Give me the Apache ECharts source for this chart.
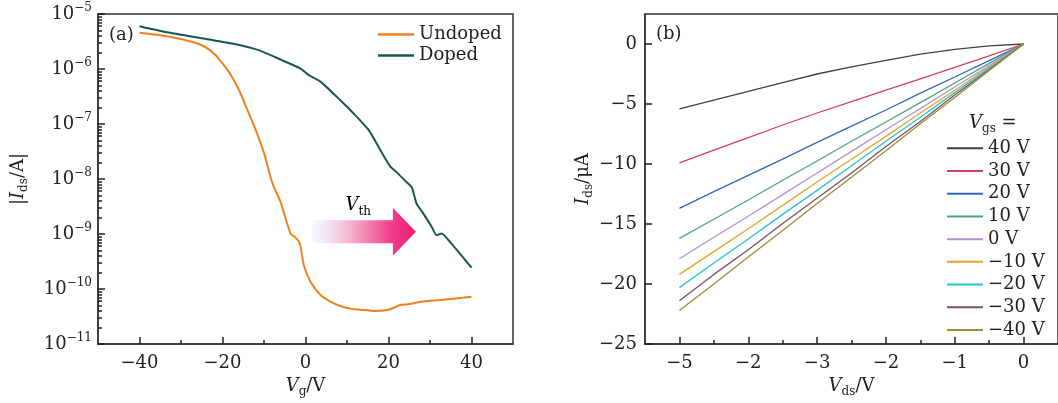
<!DOCTYPE html>
<html>
<head>
<meta charset="utf-8">
<script src="https://cdn.jsdelivr.net/npm/echarts@6/dist/echarts.min.js"></script>
<style>
  html, body { margin: 0; padding: 0; background: #fff; }
  #chart { width: 1058px; height: 403px; }
</style>
</head>
<body>
<div id="chart"></div>
<script>
// (a) transfer curves: [Vg, |Ids|]
const undoped = [
  [-40, 4.55e-6], [-35, 4.1e-6], [-30, 3.5e-6], [-25, 2.7e-6], [-22, 1.9e-6],
  [-20, 1.26e-6], [-18, 7.8e-7], [-16, 4.1e-7], [-14, 1.8e-7], [-12, 7.8e-8],
  [-10, 2.95e-8], [-8, 8.5e-9], [-6, 3.8e-9], [-3.6, 1.02e-9], [-2.6, 8.9e-10],
  [-1.4, 6.8e-10], [-0.4, 2.7e-10], [1.2, 1.35e-10], [3.6, 7.8e-11], [6, 5.9e-11],
  [8.4, 4.9e-11], [10.8, 4.4e-11], [13.2, 4.2e-11], [16.4, 4.0e-11], [20, 4.2e-11],
  [22.8, 5.1e-11], [24.4, 5.25e-11], [28.4, 5.9e-11], [32.4, 6.3e-11], [40, 7.2e-11]
];
const doped = [
  [-40, 6.0e-6], [-33.7, 4.7e-6], [-25.7, 3.7e-6], [-17.7, 2.9e-6], [-11.3, 2.2e-6],
  [-5.7, 1.45e-6], [-1.2, 1.02e-6], [0.7, 7.8e-7], [3.6, 5.9e-7], [8.4, 2.7e-7],
  [11.6, 1.55e-7], [15.2, 7.8e-8], [18, 3.4e-8], [20.4, 1.7e-8], [22, 1.32e-8],
  [24.4, 8.7e-9], [25.6, 7.1e-9], [26.4, 4.4e-9], [26.8, 3.5e-9], [28.4, 2.35e-9],
  [30.4, 1.35e-9], [31.6, 9.5e-10], [32.8, 1.02e-9], [34.8, 7.2e-10], [37.2, 4.4e-10],
  [40, 2.45e-10]
];
// V_th arrow: [Vg from, Vg to, |Ids| level]
const vthArrow = [[1.7, 26.6, 1.1e-9]];

// (b) output curves: Ids (uA) at each Vds
const vds = [-5, -4.5, -4, -3.5, -3, -2.5, -2, -1.5, -1, -0.5, 0];
const vgsNames = ['40 V', '30 V', '20 V', '10 V', '0 V', '−10 V', '−20 V', '−30 V', '−40 V'];
const ids40 = [-5.4, -4.68, -3.95, -3.22, -2.5, -1.9, -1.37, -0.85, -0.44, -0.15, 0];
const ids30 = [-9.9, -8.85, -7.8, -6.75, -5.75, -4.8, -3.85, -2.9, -1.95, -0.98, 0];
const ids20 = [-13.7, -12.3, -10.95, -9.6, -8.2, -6.85, -5.5, -4.1, -2.75, -1.38, 0];
const ids10 = [-16.2, -14.6, -13.0, -11.35, -9.75, -8.1, -6.5, -4.88, -3.25, -1.62, 0];
const ids0 = [-17.9, -16.1, -14.35, -12.55, -10.75, -8.95, -7.15, -5.38, -3.58, -1.8, 0];
const idsM10 = [-19.2, -17.3, -15.4, -13.45, -11.5, -9.6, -7.7, -5.75, -3.85, -1.92, 0];
const idsM20 = [-20.3, -18.25, -16.25, -14.2, -12.2, -10.15, -8.1, -6.1, -4.05, -2.03, 0];
const idsM30 = [-21.4, -19.2, -17.15, -14.95, -12.85, -10.75, -8.55, -6.45, -4.25, -2.15, 0];
const idsM40 = [-22.2, -20.0, -17.75, -15.55, -13.3, -11.1, -8.9, -6.65, -4.45, -2.2, 0];
const outCurves = [ids40, ids30, ids20, ids10, ids0, idsM10, idsM20, idsM30, idsM40];
const outColors = ['#404040', '#d1425f', '#2f66b8', '#4ea384', '#b58fd4', '#e3a52c', '#27c3d0', '#7f4c68', '#a08b35'];

// ticks
const xTicksA = [-40, -20, 0, 20, 40];
const xMinorA = [-30, -10, 10, 30];
const xTicksB = [-5, -4, -3, -2, -1, 0];
const xLabelsB = ['−5', '−2', '−3', '−2', '−1', '0'];
const xMinorB = [-4.5, -3.5, -2.5, -1.5, -0.5];
const yTicksB = [-25, -20, -15, -10, -5, 0];

const FONT = 'DejaVu Serif';
const INK = '#222';
const rich = {
  a: { fontFamily: FONT, fontSize: 18, fontWeight: 'normal', color: INK, lineHeight: 24 },
  i: { fontFamily: FONT, fontSize: 18, fontWeight: 'normal', color: INK, lineHeight: 24, fontStyle: 'italic' },
  s: { fontFamily: FONT, fontSize: 12, fontWeight: 'normal', color: INK, lineHeight: 12, verticalAlign: 'bottom' },
  p: { fontFamily: FONT, fontSize: 12, fontWeight: 'normal', color: INK, lineHeight: 12, verticalAlign: 'top' }
};
const minus = v => String(v).replace('-', '−');

// minor ticks for log axis
const yMinorA = [];
for (let e = -11; e < -5; e++) {
  for (let m = 2; m <= 9; m++) yMinorA.push(m * Math.pow(10, e));
}

const line = () => ({ show: true, onZero: false, lineStyle: { color: '#333', width: 1.5 } });
const noLine = () => ({ show: false, onZero: false });
const tick = (len, vals) => {
  const t = { show: true, inside: true, length: len, lineStyle: { color: '#222', width: 1.5 } };
  if (vals) t.customValues = vals;
  return t;
};

const chart = echarts.init(document.getElementById('chart'));

const series = [
  {
    name: 'Undoped', type: 'line', xAxisIndex: 0, yAxisIndex: 0, data: undoped,
    symbol: 'none', smooth: 0.3, lineStyle: { color: '#f08020', width: 2 }, itemStyle: { color: '#f08020' }
  },
  {
    name: 'Doped', type: 'line', xAxisIndex: 0, yAxisIndex: 0, data: doped,
    symbol: 'none', smooth: 0.2, lineStyle: { color: '#1a5650', width: 2 }, itemStyle: { color: '#1a5650' }
  },
  {
    // V_th arrow drawn through the axes of panel (a)
    type: 'custom', xAxisIndex: 0, yAxisIndex: 0, data: vthArrow,
    encode: { x: [0, 1], y: 2 }, silent: true, z: 1,
    renderItem: (params, api) => {
      const p0 = api.coord([api.value(0), api.value(2)]);
      const p1 = api.coord([api.value(1), api.value(2)]);
      const hx = p1[0] - 23, y = p0[1];
      return {
        type: 'group',
        children: [
          {
            type: 'polygon',
            shape: {
              points: [
                [p0[0], y - 11.5], [hx, y - 11.5], [hx, y - 24], [p1[0], y],
                [hx, y + 24], [hx, y + 11.5], [p0[0], y + 11.5]
              ]
            },
            style: {
              fill: new echarts.graphic.LinearGradient(0, 0, 1, 0, [
                { offset: 0, color: 'rgba(230,235,252,0.4)' },
                { offset: 0.35, color: '#f6b6d0' },
                { offset: 0.75, color: '#f0408a' },
                { offset: 1, color: '#ee1c6c' }
              ])
            }
          },
          {
            type: 'text',
            x: (p0[0] + p1[0]) / 2 - 6, y: y - 26,
            style: { text: '{i|V}{s|th}', rich: rich, align: 'center', verticalAlign: 'middle' }
          }
        ]
      };
    }
  }
];
outCurves.forEach((c, k) => {
  series.push({
    name: vgsNames[k], type: 'line', xAxisIndex: 2, yAxisIndex: 2,
    data: vds.map((v, j) => [v, c[j]]),
    symbol: 'none', lineStyle: { color: outColors[k], width: 1.3 }, itemStyle: { color: outColors[k] }
  });
});

const option = {
  animation: false,
  textStyle: { fontFamily: FONT },
  title: [
    { text: '(a)', left: 104, top: 21, textStyle: { fontFamily: FONT, fontSize: 18, fontWeight: 'normal', color: INK } },
    { text: '(b)', left: 651, top: 20, textStyle: { fontFamily: FONT, fontSize: 18, fontWeight: 'normal', color: INK } },
    { text: '{i|V}{s|gs}{a| =}', left: 964, top: 106, textStyle: { fontWeight: 'normal', rich: rich } }
  ],
  legend: [
    {
      data: ['Undoped', 'Doped'], orient: 'vertical', left: 373, top: 19,
      icon: 'rect', itemWidth: 36, itemHeight: 2.5, itemGap: 0,
      textStyle: { fontFamily: FONT, fontSize: 18, color: INK, lineHeight: 21 }
    },
    {
      data: vgsNames, orient: 'vertical', left: 942, top: 132,
      icon: 'rect', itemWidth: 36, itemHeight: 2, itemGap: 0,
      textStyle: { fontFamily: FONT, fontSize: 18, color: INK, lineHeight: 22.7 }
    }
  ],
  grid: [
    { left: 98, top: 14, width: 415, height: 332, show: true, borderColor: '#333', borderWidth: 1.5 },
    { left: 645, top: 14, width: 416, height: 332, show: true, borderColor: '#333', borderWidth: 1.5 }
  ],
  xAxis: [
    {
      gridIndex: 0, type: 'value', position: 'bottom', min: -50, max: 50,
      axisLine: line(), axisTick: tick(7, xTicksA),
      axisLabel: { customValues: xTicksA, formatter: minus, fontFamily: FONT, fontSize: 18, color: INK, margin: 10 },
      splitLine: { show: false },
      name: '{i|V}{s|g}{a|/V}', nameLocation: 'middle', nameGap: 30, nameTextStyle: { rich: rich }
    },
    {
      gridIndex: 0, type: 'value', position: 'bottom', min: -50, max: 50,
      axisLine: noLine(), axisTick: tick(4, xMinorA),
      axisLabel: { show: false }, splitLine: { show: false }
    },
    {
      gridIndex: 1, type: 'value', position: 'bottom', min: -5.5, max: 0.5,
      axisLine: line(), axisTick: tick(7, xTicksB),
      axisLabel: {
        customValues: xTicksB, formatter: v => xLabelsB[xTicksB.indexOf(Math.round(v))],
        fontFamily: FONT, fontSize: 18, color: INK, margin: 10
      },
      splitLine: { show: false },
      name: '{i|V}{s|ds}{a|/V}', nameLocation: 'middle', nameGap: 30, nameTextStyle: { rich: rich }
    },
    {
      gridIndex: 1, type: 'value', position: 'bottom', min: -5.5, max: 0.5,
      axisLine: noLine(), axisTick: tick(4, xMinorB),
      axisLabel: { show: false }, splitLine: { show: false }
    }
  ],
  yAxis: [
    {
      gridIndex: 0, type: 'log', logBase: 10, position: 'left', min: 1e-11, max: 1e-5,
      axisLine: line(), axisTick: tick(7),
      axisLabel: {
        formatter: v => '{a|10}{p|' + minus(Math.round(Math.log10(v))) + '}',
        rich: rich, margin: 6
      },
      splitLine: { show: false },
      name: '{a||}{i|I}{s|ds}{a|/A|}', nameLocation: 'middle', nameRotate: 90, nameGap: 68,
      nameTextStyle: { rich: rich }
    },
    {
      gridIndex: 0, type: 'log', logBase: 10, position: 'left', min: 1e-11, max: 1e-5,
      axisLine: noLine(), axisTick: tick(4, yMinorA),
      axisLabel: { show: false }, splitLine: { show: false }
    },
    {
      gridIndex: 1, type: 'value', position: 'left', min: -25, max: 2.5,
      axisLine: line(), axisTick: tick(7, yTicksB),
      axisLabel: { customValues: yTicksB, formatter: minus, fontFamily: FONT, fontSize: 18, color: INK, margin: 8 },
      splitLine: { show: false },
      name: '{i|I}{s|ds}{a|/μA}', nameLocation: 'middle', nameRotate: 90, nameGap: 34,
      nameTextStyle: { rich: rich }
    }
  ],
  series: series
};

chart.setOption(option);
</script>
</body>
</html>
